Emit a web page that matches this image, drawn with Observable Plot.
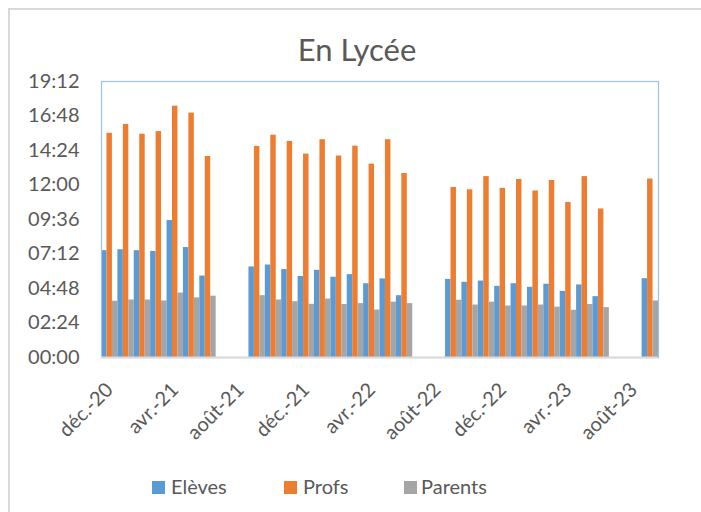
<!DOCTYPE html>
<html>
<head>
<meta charset="utf-8">
<script src="https://cdn.jsdelivr.net/npm/d3@7"></script>
<script src="https://cdn.jsdelivr.net/npm/@observablehq/plot@0.6"></script>
<style>
  html, body { margin: 0; padding: 0; background: #fff; }
  body { width: 701px; height: 512px; overflow: hidden; position: relative; font-family: Lato, "Open Sans", sans-serif; color: #595959; }
  #border { position: absolute; left: 8px; top: 8px; width: 800px; height: 600px; border: 2px solid #D9D9D9; }
  #title { position: absolute; left: 0; width: 714px; top: 34px; text-align: center; font-size: 31px; line-height: 1; }
  #chart { position: absolute; left: 0; top: 0; }
  .leg { position: absolute; top: 476px; font-size: 20px; line-height: 1; white-space: nowrap; }
  .sw { position: absolute; width: 13px; height: 13px; top: 481px; }
</style>
</head>
<body>
<div id="border"></div>
<div id="title">En Lycée</div>
<div id="chart"></div>
<div id="legend"></div>
<script>
const months = ["déc.-20","janv.-21","févr.-21","mars-21","avr.-21","mai-21","juin-21","juil.-21","août-21",
  "sept.-21","oct.-21","nov.-21","déc.-21","janv.-22","févr.-22","mars-22","avr.-22","mai-22","juin-22","juil.-22","août-22",
  "sept.-22","oct.-22","nov.-22","déc.-22","janv.-23","févr.-23","mars-23","avr.-23","mai-23","juin-23","juil.-23","août-23","sept.-23"];
const tickMonths = ["déc.-20","avr.-21","août-21","déc.-21","avr.-22","août-22","déc.-22","avr.-23","août-23"];
const yTicks = ["00:00","02:24","04:48","07:12","09:36","12:00","14:24","16:48","19:12"];
const series = ["Elèves","Profs","Parents"];
const colors = ["#5B9BD5","#ED7D31","#A5A5A5"];

const eleves = ["07:26","07:30","07:26","07:23","09:32","07:39","05:40",null,null,
  "06:18","06:26","06:07","05:38","06:04","05:35","05:46","05:08","05:28","04:18",null,null,
  "05:26","05:14","05:19","04:57","05:08","04:53","05:06","04:36","05:03","04:14",null,null,"05:29"];
const profs = ["15:36","16:13","15:32","15:43","17:29","17:00","13:59",null,null,
  "14:41","15:28","15:02","14:09","15:09","14:01","14:42","13:27","15:09","12:48",null,null,
  "11:50","11:40","12:35","11:46","12:23","11:35","12:19","10:47","12:35","10:20",null,null,"12:25"];
const parents = ["03:55","04:00","04:00","03:56","04:29","04:09","04:16",null,null,
  "04:18","04:00","03:53","03:42","04:04","03:41","03:45","03:18","03:51","03:45",null,null,
  "03:59","03:39","03:51","03:35","03:35","03:39","03:30","03:17","03:41","03:28",null,null,"03:56"];

const toMin = s => +s.slice(0, 2) * 60 + +s.slice(3);
const fmt = m => String(Math.floor(m / 60)).padStart(2, "0") + ":" + String(Math.round(m % 60)).padStart(2, "0");

const valueSets = [eleves, profs, parents];
const data = [];
months.forEach((m, i) => series.forEach((s, j) => {
  const v = valueSets[j][i];
  if (v != null) data.push({key: m + "|" + s, month: m, series: s, minutes: toMin(v)});
}));
const domain = months.flatMap(m => series.map(s => m + "|" + s));
const yTickVals = yTicks.map(toMin);

const chart = Plot.plot({
  width: 701,
  height: 470,
  marginLeft: 101,
  marginRight: 43,
  marginTop: 81,
  marginBottom: 113,
  style: {fontFamily: "Lato, 'Open Sans', sans-serif", fontSize: "20px", color: "#595959", background: "transparent"},
  x: {type: "band", domain, padding: 0, axis: null},
  y: {domain: [toMin(yTicks[0]), toMin(yTicks[yTicks.length - 1])], axis: null},
  color: {domain: series, range: colors},
  marks: [
    Plot.barY(data, {x: "key", y: "minutes", fill: "series", inset: 0}),
    Plot.frame({stroke: "#9DC3E6", strokeWidth: 1.2}),
    Plot.ruleY([0], {stroke: "#D9D9D9", strokeWidth: 2}),
    Plot.axisY(yTickVals, {tickSize: 0, tickPadding: 22, tickFormat: fmt, label: null}),
    Plot.axisX(tickMonths.map(m => m + "|" + series[1]), {
      tickSize: 0, tickPadding: 29, tickRotate: -45, label: null,
      tickFormat: k => k.split("|")[0]
    })
  ]
});
document.getElementById("chart").appendChild(chart);

const legendPos = [[152, 171], [284, 303], [404, 421]];
const legend = document.getElementById("legend");
series.forEach((s, j) => {
  const sw = document.createElement("div");
  sw.className = "sw"; sw.style.left = legendPos[j][0] + "px"; sw.style.background = colors[j];
  const t = document.createElement("div");
  t.className = "leg"; t.style.left = legendPos[j][1] + "px"; t.textContent = s;
  legend.appendChild(sw); legend.appendChild(t);
});
</script>
</body>
</html>
